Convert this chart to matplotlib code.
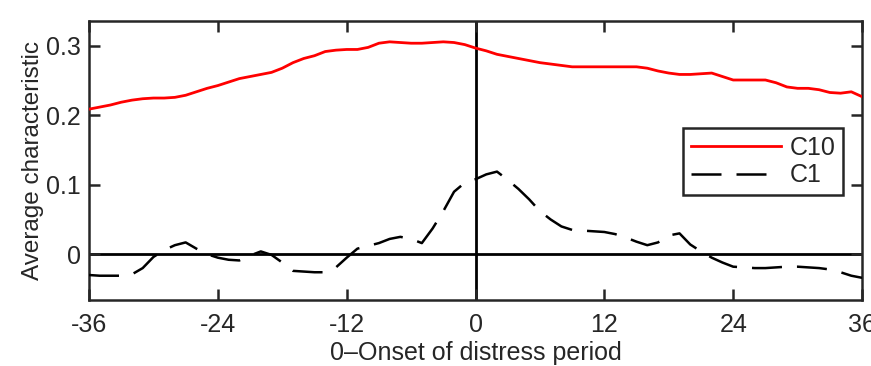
import matplotlib
matplotlib.use("Agg")
import matplotlib.pyplot as plt
import numpy as np

# months relative to onset of distress
months = np.arange(-36, 37)

# average characteristic, top decile (C10)
c10 = [
    0.209, 0.212, 0.215, 0.219, 0.222, 0.224, 0.225, 0.225, 0.226, 0.229,
    0.234, 0.239, 0.243, 0.248, 0.253, 0.256, 0.259, 0.262, 0.268, 0.276,
    0.282, 0.286, 0.292, 0.294, 0.295, 0.295, 0.298, 0.304, 0.306, 0.305,
    0.304, 0.304, 0.305, 0.306, 0.305, 0.302, 0.297, 0.293, 0.288, 0.285,
    0.282, 0.279, 0.276, 0.274, 0.272, 0.270, 0.270, 0.270, 0.270, 0.270,
    0.270, 0.270, 0.268, 0.264, 0.261, 0.259, 0.259, 0.260, 0.261, 0.256,
    0.251, 0.251, 0.251, 0.251, 0.247, 0.241, 0.239, 0.239, 0.237, 0.233,
    0.232, 0.234, 0.227,
]

# average characteristic, bottom decile (C1)
c1 = [
    -0.030, -0.031, -0.031, -0.031, -0.029, -0.020, -0.004, 0.006, 0.013, 0.017,
    0.008, 0.000, -0.005, -0.008, -0.009, -0.002, 0.004, -0.001, -0.012, -0.024,
    -0.025, -0.026, -0.026, -0.019, -0.005, 0.008, 0.012, 0.016, 0.022, 0.025,
    0.022, 0.016, 0.037, 0.062, 0.090, 0.103, 0.108, 0.115, 0.119, 0.107,
    0.094, 0.079, 0.062, 0.050, 0.040, 0.035, 0.034, 0.033, 0.032, 0.029,
    0.024, 0.018, 0.013, 0.017, 0.027, 0.030, 0.014, 0.004, -0.005, -0.012,
    -0.018, -0.019, -0.020, -0.020, -0.019, -0.018, -0.018, -0.019, -0.020, -0.022,
    -0.026, -0.031, -0.034,
]

xticks = [-36, -24, -12, 0, 12, 24, 36]
yticks = [0, 0.1, 0.2, 0.3]

DARK = "#262626"
FS = 18

plt.rcParams["font.family"] = ["Liberation Sans", "DejaVu Sans"]

fig = plt.figure(figsize=(8.71, 3.66), dpi=100)
ax = fig.add_axes([0.1022, 0.1803, 0.8875, 0.7623])

# reference lines through zero
ax.axhline(0, color="black", lw=2.0, zorder=1)
ax.axvline(0, color="black", lw=2.0, zorder=1)

ax.plot(months, c10, color="#ff0000", lw=2.0, label="C10", zorder=3)
ax.plot(months, c1, color="black", lw=1.8, dashes=(12, 6), label="C1", zorder=3)

ax.set_xlim(-36, 36)
ax.set_ylim(-0.066, 0.336)
ax.set_xticks(xticks)
ax.set_xticklabels([str(t) for t in xticks])
ax.set_yticks(yticks)
ax.set_yticklabels(["0", "0.1", "0.2", "0.3"])

ax.tick_params(direction="in", length=8, width=1.8, colors=DARK,
               labelsize=FS, top=True, right=True)
ax.tick_params(axis="x", pad=9)
ax.tick_params(axis="y", pad=6)
for sp in ax.spines.values():
    sp.set_linewidth(1.8)
    sp.set_color(DARK)

ax.set_xlabel("0\u2013Onset of distress period", fontsize=FS, color=DARK, labelpad=3)
ax.set_ylabel("Average characteristic", fontsize=17.5, color=DARK, labelpad=1)

leg = ax.legend(loc="upper right", bbox_to_anchor=(0.975, 0.616), fontsize=FS,
                handlelength=3.6, handletextpad=0.35, borderpad=0.3,
                labelspacing=0.15, borderaxespad=0, fancybox=False, framealpha=1)
leg.get_frame().set_edgecolor(DARK)
leg.get_frame().set_linewidth(1.8)
for t in leg.get_texts():
    t.set_color(DARK)

fig.savefig("out.png", dpi=100)
